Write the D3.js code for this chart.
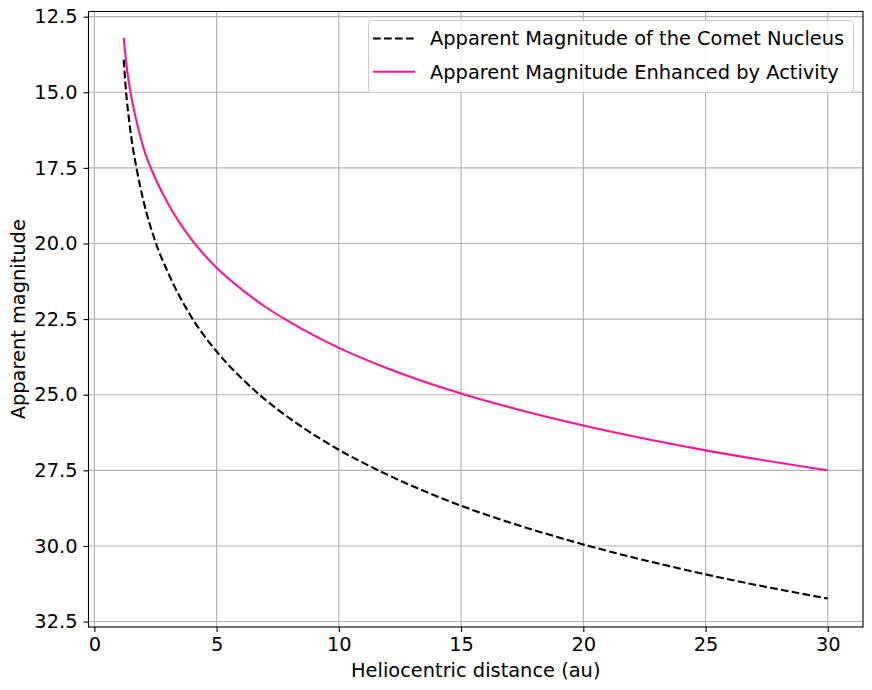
<!DOCTYPE html>
<html>
<head>
<meta charset="utf-8">
<script src="https://cdn.jsdelivr.net/npm/d3@7"></script>
<style>
  html, body { margin: 0; padding: 0; background: #fff; }
  svg { display: block; font-family: "DejaVu Sans", sans-serif; }
</style>
</head>
<body>
<svg id="chart" width="872" height="690"></svg>
<script>
// Heliocentric distance (au)
const distances = [1.2, 1.3, 1.4, 1.5, 1.75, 2, 2.5, 3, 4, 5, 6, 7, 8, 10, 12, 15, 18, 20, 25, 30];
// Apparent magnitude of the comet nucleus (dashed black)
const nucleusMag = [13.92, 15.03, 15.79, 16.43, 17.62, 18.56, 19.95, 20.94, 22.47, 23.57, 24.44, 25.17, 25.79, 26.82, 27.65, 28.67, 29.48, 29.95, 30.94, 31.74];
// Apparent magnitude enhanced by activity (pink)
const activeMag = [13.2, 14.0, 14.62, 15.1, 16.05, 16.82, 17.86, 18.66, 19.9, 20.8, 21.5, 22.1, 22.6, 23.45, 24.13, 24.96, 25.63, 26.02, 26.84, 27.5];

const xTicks = [0, 5, 10, 15, 20, 25, 30];
const yTicks = [12.5, 15.0, 17.5, 20.0, 22.5, 25.0, 27.5, 30.0, 32.5];
const seriesNames = ["Apparent Magnitude of the Comet Nucleus", "Apparent Magnitude Enhanced by Activity"];

const FS = 19.4;
const svg = d3.select("#chart");
const L = 88.5, R = 863, T = 11.5, B = 627;

const x = d3.scaleLinear().domain([-0.24, 31.44]).range([L, R]);
const y = d3.scaleLinear().domain([12.33, 32.68]).range([T, B]);

// grid
const grid = svg.append("g");
grid.selectAll("line.vx").data(xTicks).join("line")
  .attr("x1", d => x(d)).attr("x2", d => x(d)).attr("y1", T).attr("y2", B)
  .attr("stroke", "#b0b0b0").attr("stroke-width", 1.1);
grid.selectAll("line.hy").data(yTicks).join("line")
  .attr("x1", L).attr("x2", R).attr("y1", d => y(d)).attr("y2", d => y(d))
  .attr("stroke", "#b0b0b0").attr("stroke-width", 1.1);

// axes
const xAxis = d3.axisBottom(x).tickValues(xTicks).tickFormat(d3.format("d")).tickSizeInner(5).tickSizeOuter(0).tickPadding(5);
const yAxis = d3.axisLeft(y).tickValues(yTicks).tickFormat(d3.format(".1f")).tickSizeInner(5).tickSizeOuter(0).tickPadding(6);

const gx = svg.append("g").attr("transform", `translate(0,${B})`).call(xAxis);
const gy = svg.append("g").attr("transform", `translate(${L},0)`).call(yAxis);
[gx, gy].forEach(g => {
  g.select(".domain").remove();
  g.selectAll("line").attr("stroke", "#000").attr("stroke-width", 1.1);
  g.selectAll("text").attr("font-size", FS).attr("fill", "#000").attr("font-family", "DejaVu Sans, sans-serif");
});

// lines
const pts = vals => distances.map((d, i) => [d, vals[i]]);
const line = d3.line().x(d => x(d[0])).y(d => y(d[1])).curve(d3.curveMonotoneX);

const plot = svg.append("g");
plot.append("path").datum(pts(nucleusMag)).attr("d", line)
  .attr("fill", "none").attr("stroke", "#000").attr("stroke-width", 2.1)
  .attr("stroke-dasharray", "7.7,3.3");
plot.append("path").datum(pts(activeMag)).attr("d", line)
  .attr("fill", "none").attr("stroke", "#ff1493").attr("stroke-width", 2.1);

// spines
svg.append("rect").attr("x", L).attr("y", T).attr("width", R - L).attr("height", B - T)
  .attr("fill", "none").attr("stroke", "#000").attr("stroke-width", 1.1);

// axis labels
svg.append("text").attr("x", (L + R) / 2).attr("y", 677).attr("text-anchor", "middle")
  .attr("font-size", FS).text("Heliocentric distance (au)");
svg.append("text").attr("transform", `translate(25,${(T + B) / 2}) rotate(-90)`)
  .attr("text-anchor", "middle").attr("font-size", FS).text("Apparent magnitude");

// legend
const lg = svg.append("g");
lg.append("rect").attr("x", 368.5).attr("y", 20.5).attr("width", 485).attr("height", 72)
  .attr("rx", 4).attr("fill", "#fff").attr("fill-opacity", 0.8)
  .attr("stroke", "#cccccc").attr("stroke-width", 1.1);
const styles = [{c: "#000", dash: "7.7,3.3"}, {c: "#ff1493", dash: null}];
seriesNames.forEach((name, i) => {
  const cy = 38.5 + i * 33.3;
  lg.append("line").attr("x1", 373).attr("x2", 415).attr("y1", cy).attr("y2", cy)
    .attr("stroke", styles[i].c).attr("stroke-width", 2.1)
    .attr("stroke-dasharray", styles[i].dash);
  lg.append("text").attr("x", 430).attr("y", cy).attr("dy", "0.36em")
    .attr("font-size", FS).text(name);
});
</script>
</body>
</html>
